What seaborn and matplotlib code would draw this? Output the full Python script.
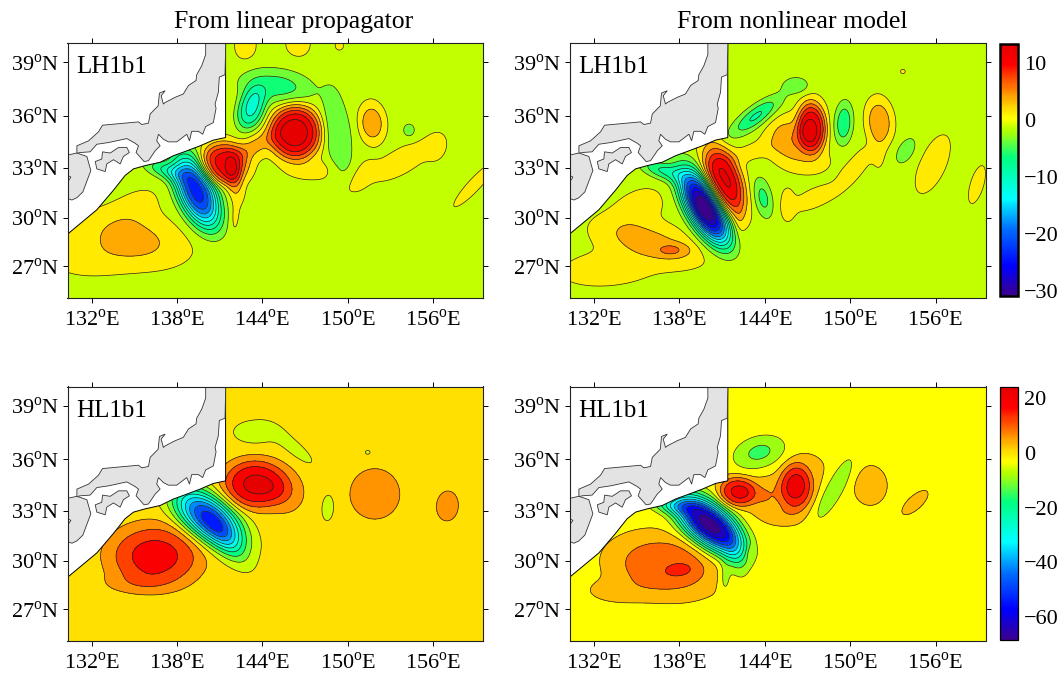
import numpy as np
import matplotlib
matplotlib.use('Agg')
import matplotlib.pyplot as plt
from matplotlib.cm import ScalarMappable
from matplotlib.colors import Normalize
import seaborn as sns

sns.set_style('ticks')
plt.rcParams['font.family'] = ['Liberation Serif', 'DejaVu Serif']
plt.rcParams['mathtext.fontset'] = 'custom'
plt.rcParams['mathtext.rm'] = 'Liberation Serif'
plt.rcParams['text.color'] = 'black'
plt.rcParams['xtick.labelcolor'] = 'black'
plt.rcParams['ytick.labelcolor'] = 'black'

W, H = 1060, 673

LON_TICKS = [132, 138, 144, 150, 156]
LAT_TICKS = [27, 30, 33, 36, 39]
LON_RANGE = (130.3, 159.5)
LAT_RANGE = (25.0, 40.05)

TITLES = ['From linear propagator', 'From nonlinear model']
LABELS = ['LH1b1', 'LH1b1', 'HL1b1', 'HL1b1']

# coast of Japan, lon / lat
HONSHU_LON = [140.01, 140.01, 139.73, 139.38, 139.33, 138.8, 138.44, 137.86, 137.16, 137.04, 136.88, 137.16,
              136.76, 136.67, 136.11, 135.99, 135.52, 135.29, 132.76, 132.48, 131.78, 130.96, 130.96, 131.19,
              131.89, 132.36, 133.18, 134.47, 135.05, 135.29, 135.12, 135.68, 135.99, 136.46, 136.81, 136.57,
              136.69, 137.04, 137.39, 137.98, 138.68, 138.87, 139.03, 139.5, 139.8, 140.01, 140.55, 140.74,
              140.67, 140.9, 140.97, 141.37, 141.42]
HONSHU_LAT = [40.1, 39.42, 38.81, 38.32, 38.0, 37.72, 37.25, 37.06, 36.77, 36.68, 37.15, 37.43,
              37.3, 36.58, 36.12, 35.6, 35.52, 35.67, 35.48, 35.1, 34.58, 34.29, 33.85, 33.9,
              33.94, 34.38, 34.48, 34.71, 34.44, 34.29, 33.9, 33.37, 33.42, 34.0, 34.29, 34.58,
              34.96, 34.67, 34.52, 34.52, 34.96, 34.58, 35.13, 35.13, 34.96, 35.4, 35.63, 36.44,
              36.68, 37.34, 38.19, 38.32, 40.1]
SHIKOKU_LON = [132.76, 133.3, 133.88, 134.47, 134.65, 134.23, 134.0, 133.53, 133.06, 132.95, 132.36, 132.25, 132.71]
SHIKOKU_LAT = [33.94, 33.87, 34.19, 34.19, 33.9, 33.67, 33.23, 33.48, 33.23, 32.78, 32.94, 33.37, 33.52]
KYUSHU_LON = [130.3, 130.96, 131.66, 131.94, 131.38, 130.96, 130.61, 130.3, 130.3, 130.54, 130.3]
KYUSHU_LAT = [33.75, 33.87, 33.67, 32.84, 31.57, 31.22, 31.08, 31.18, 32.16, 32.45, 32.55]

# edge of the model domain
EDGE_LON = [141.41, 141.41, 140.55, 139.62, 138.56, 137.74, 136.81, 135.75, 134.94, 134.35, 133.53, 132.36, 130.3, 130.3]
EDGE_LAT = [40.1, 34.77, 34.62, 34.29, 33.96, 33.71, 33.33, 33.13, 32.94, 32.55, 31.67, 30.49, 29.0, 40.1]

# anomalies: lon, lat, amplitude, long radius, short radius, tilt, flatness
LH_LINEAR = [
    (146.3, 35.05, 14.0, 1.25, 1.1, 0, 1.8),
    (141.25, 33.25, 11.5, 1.15, 0.85, 0, 1.6),
    (143.5, 34.3, 4.0, 1.1, 0.45, 25, 1.0),
    (142.0, 32.4, 4.5, 0.85, 0.4, -80, 1.2),
    (142.0, 30.0, 1.5, 0.8, 0.25, 85, 1.0),
    (139.4, 31.55, -23.0, 1.65, 0.88, -60, 1.25),
    (137.2, 32.85, -6.5, 1.1, 0.38, -15, 1.0),
    (143.2, 36.4, -10.0, 0.9, 0.65, 60, 1.3),
    (145.0, 37.7, -5.5, 1.9, 0.7, -5, 1.2),
    (149.3, 35.0, -4.0, 2.0, 0.72, -80, 1.4),
    (134.9, 28.7, 3.9, 2.2, 0.95, -8, 1.1),
    (132.6, 27.6, 1.4, 2.2, 0.8, 5, 1.0),
    (134.8, 30.3, 1.2, 1.5, 0.8, 30, 1.0),
    (151.7, 35.6, 4.6, 0.75, 0.6, -80, 1.5),
    (153.8, 33.4, 1.6, 1.5, 0.5, 25, 1.0),
    (156.2, 34.2, 1.1, 0.6, 0.5, 60, 1.0),
    (150.6, 32.3, 1.6, 1.0, 0.45, 40, 1.0),
    (147.5, 32.9, 1.6, 1.2, 0.4, 0, 1.0),
    (154.3, 35.2, -3.8, 0.33, 0.3, 0, 1.0),
    (142.8, 39.9, 1.6, 0.6, 0.5, 90, 1.0),
    (146.5, 40.0, 1.4, 0.6, 0.5, 0, 1.0),
    (149.4, 39.9, 1.0, 0.25, 0.2, 0, 1.0),
    (158.9, 32.0, 1.5, 1.3, 0.27, 42, 1.0),
]
LH_NONLINEAR = [
    (139.8, 30.6, -32.0, 1.75, 0.78, -55, 1.2),
    (136.8, 32.85, -7.0, 1.1, 0.38, -15, 1.0),
    (141.15, 32.2, 13.5, 1.55, 0.85, -65, 1.5),
    (142.2, 29.6, 1.8, 0.8, 0.3, 90, 1.0),
    (143.9, 31.2, -5.5, 0.9, 0.45, -75, 1.0),
    (145.6, 30.8, 1.6, 0.65, 0.35, 90, 1.0),
    (147.5, 31.2, 1.4, 1.2, 0.4, 20, 1.0),
    (150.3, 33.0, 1.5, 1.1, 0.4, 45, 1.0),
    (147.3, 35.35, 13.0, 1.0, 0.7, -85, 1.6),
    (145.8, 34.6, 5.0, 1.1, 0.85, -20, 1.2),
    (147.3, 33.4, 1.5, 0.9, 0.5, 0, 1.0),
    (143.0, 33.9, 1.4, 1.5, 0.35, 15, 1.0),
    (149.55, 35.6, -7.0, 0.85, 0.45, 85, 1.0),
    (152.05, 35.7, 4.6, 0.85, 0.62, -80, 1.5),
    (152.0, 34.3, 1.1, 1.0, 0.4, 90, 1.0),
    (153.9, 34.0, -4.5, 0.65, 0.38, 50, 1.0),
    (155.8, 33.2, 1.5, 1.3, 0.6, 60, 1.0),
    (158.9, 32.0, 1.2, 0.9, 0.35, 70, 1.0),
    (146.2, 37.75, -3.8, 0.68, 0.34, 0, 1.0),
    (143.4, 36.0, -7.5, 1.4, 0.42, 30, 1.0),
    (153.7, 38.5, 1.0, 0.14, 0.1, 0, 1.0),
    (135.9, 28.5, 3.8, 2.3, 0.8, -12, 1.3),
    (137.6, 28.0, 2.8, 0.85, 0.32, 0, 1.3),
    (133.2, 26.9, 1.3, 2.5, 0.8, 5, 1.0),
    (134.9, 30.4, 1.4, 1.5, 0.8, 25, 1.0),
]
HL_LINEAR = [
    (136.45, 30.3, 17.0, 2.25, 1.33, 0, 1.5),
    (135.0, 28.6, 3.5, 1.8, 0.45, 0, 1.0),
    (140.2, 32.6, -50.0, 1.85, 0.9, -30, 1.15),
    (141.5, 31.2, -12.0, 1.4, 0.6, -45, 1.0),
    (143.47, 34.58, 22.0, 1.55, 0.98, 0, 1.5),
    (145.7, 34.0, 6.0, 0.95, 0.85, 0, 1.0),
    (143.5, 37.55, -6.0, 1.3, 0.55, 0, 1.0),
    (146.3, 36.6, -5.6, 1.25, 0.35, -33, 1.0),
    (151.9, 34.0, 8.0, 1.25, 1.05, 0, 1.0),
    (148.6, 33.2, -7.0, 0.6, 0.33, 85, 1.0),
    (151.4, 36.4, -5.0, 0.2, 0.13, 0, 1.0),
    (157.0, 33.3, 6.0, 0.75, 0.65, 80, 1.0),
]
HL_NONLINEAR = [
    (140.1, 32.2, -68.0, 1.8, 0.85, -32, 1.15),
    (137.6, 33.3, -15.0, 1.2, 0.35, -5, 1.0),
    (141.9, 30.4, -9.0, 1.2, 0.55, -70, 1.0),
    (141.2, 28.9, -7.0, 0.7, 0.3, 90, 1.0),
    (142.08, 34.13, 20.0, 0.9, 0.61, 0, 1.5),
    (146.2, 34.4, 19.0, 0.95, 0.8, 90, 1.5),
    (144.0, 33.9, 7.0, 0.9, 0.7, 0, 1.0),
    (145.4, 32.8, 4.0, 0.85, 0.4, 0, 1.0),
    (146.5, 35.0, 3.0, 1.3, 1.0, 0, 1.0),
    (143.65, 36.4, -13.0, 1.36, 0.68, 10, 1.0),
    (148.9, 34.3, -11.0, 1.6, 0.45, 56, 1.0),
    (151.4, 34.5, 6.5, 0.62, 0.6, 0, 1.0),
    (154.55, 33.5, 5.0, 0.6, 0.24, 35, 1.0),
    (143.0, 30.5, 5.0, 0.33, 0.2, 75, 1.0),
    (137.0, 29.7, 12.0, 2.4, 1.2, -5, 1.5),
    (138.1, 29.45, 5.0, 0.6, 0.25, 5, 1.0),
    (134.0, 28.2, 3.0, 1.5, 0.5, 0, 1.0),
]

# base of each field, and contour levels
BACKGROUNDS = [-0.5, -0.5, 0.0, -1.0]
LEVELS = [np.arange(-32.5, 15, 2.5), np.arange(-32.5, 15, 2.5), np.arange(-69, 26, 6), np.arange(-66, 25, 6)]
NORM_RANGES = [(-30.9, 13.3), (-30.9, 13.3), (-68.4, 24.1), (-68.4, 24.1)]
BAR_TICKS = [[10, 0, -10, -20, -30], [20, 0, -20, -40, -60]]

CMAP_POS = [0.0, 0.12, 0.255, 0.39, 0.546, 0.66, 0.705, 0.74, 0.785, 0.83, 0.875, 0.92, 1.0]
CMAP_COLORS = ['#3c008c', '#0000ff', '#0064ff', '#00ffff', '#00ff82', '#b4ff00', '#ffff00', '#ffe000', '#ffaa00',
               '#ff7000', '#ff3c00', '#ff0000', '#e60000']

# even steps for the colour bar, blended by seaborn between the colours above
stops = []
for i in range(len(CMAP_POS) - 1):
    n = int(round((CMAP_POS[i + 1] - CMAP_POS[i]) * 200))
    stops += sns.blend_palette([CMAP_COLORS[i], CMAP_COLORS[i + 1]], n)
cmap = sns.blend_palette(stops, n_colors=64, as_cmap=True)


def merc(lat):
    lat = np.clip(lat, -85, 85)
    return np.degrees(np.log(np.tan(np.radians(45 + lat / 2))))


def inv_merc(y):
    return 2 * np.degrees(np.arctan(np.exp(np.radians(y)))) - 90


def make_field(anomalies, base, lon, lat):
    out = np.full(lon.shape, float(base))
    for x0, y0, amp, long_r, short_r, tilt, flat in anomalies:
        t = np.radians(tilt)
        u = (lon - x0) * np.cos(t) + (lat - y0) * np.sin(t)
        v = -(lon - x0) * np.sin(t) + (lat - y0) * np.cos(t)
        out += amp * np.exp(-(((u / long_r) ** 2 + (v / short_r) ** 2) / 2) ** flat)
    return out


def add_axes(fig, x0, y0, x1, y1):
    return fig.add_axes([x0 / W, 1 - y1 / H, (x1 - x0) / W, (y1 - y0) / H])


def draw_map(ax, field, levels, vrange, label):
    ax.set_yscale('function', functions=(merc, inv_merc))
    norm = Normalize(*vrange)
    ax.contourf(grid_lon, grid_lat, field, levels=levels, cmap=cmap, norm=norm, extend='both')
    ax.contour(grid_lon, grid_lat, field, levels=levels, colors='#222222', linewidths=0.5,
               negative_linestyles='solid')
    ax.fill(EDGE_LON, EDGE_LAT, facecolor='white', edgecolor='black', linewidth=0.7, zorder=3)
    for xs, ys in [(HONSHU_LON, HONSHU_LAT), (SHIKOKU_LON, SHIKOKU_LAT), (KYUSHU_LON, KYUSHU_LAT)]:
        ax.fill(xs, ys, facecolor='#e3e3e3', edgecolor='#333333', linewidth=0.6, zorder=4)
    ax.set_xlim(*LON_RANGE)
    ax.set_ylim(*LAT_RANGE)
    ax.set_xticks(LON_TICKS)
    ax.set_xticklabels(['%d$^{\\mathrm{o}}$E' % v for v in LON_TICKS], fontsize=16)
    ax.set_yticks(LAT_TICKS)
    ax.set_yticklabels(['%d$^{\\mathrm{o}}$N' % v for v in LAT_TICKS], fontsize=16)
    ax.minorticks_off()
    ax.tick_params(axis='y', which='major', direction='out', length=3.6, width=0.7, left=True, right=True,
                   labelright=False, pad=2, color='black')
    ax.tick_params(axis='x', which='major', direction='out', length=3.6, width=0.7, top=True, bottom=True,
                   labeltop=False, pad=5, color='black')
    for s in ax.spines.values():
        s.set_linewidth(0.8)
        s.set_color('#222222')
        s.set_zorder(6)
    ax.text(0.022, 0.905, label, transform=ax.transAxes, fontsize=18, ha='left', va='center', zorder=7)


def draw_bar(fig, box, vrange, ticks, frame):
    cax = add_axes(fig, *box)
    sm = ScalarMappable(norm=Normalize(*vrange), cmap=cmap)
    cb = fig.colorbar(sm, cax=cax)
    cb.set_ticks(ticks)
    cb.set_ticklabels([str(v).replace('-', '\u2212') for v in ticks])
    cb.ax.minorticks_off()
    cb.ax.tick_params(direction='in', length=2.5, width=0.8, left=True, right=True, labelsize=16, pad=4.5)
    cb.outline.set_linewidth(frame)
    cb.outline.set_edgecolor('black')


lon_axis = np.arange(LON_RANGE[0], LON_RANGE[1] + 0.04, 0.04)
lat_axis = np.arange(LAT_RANGE[0], LAT_RANGE[1] + 0.04, 0.04)
grid_lon, grid_lat = np.meshgrid(lon_axis, lat_axis)

fig = plt.figure(figsize=(W / 100, H / 100), dpi=100)
boxes = [(67.5, 43, 483, 298), (569.5, 43, 985.5, 298), (67.5, 386.5, 483, 641), (569.5, 386.5, 985.5, 641)]
panels = [LH_LINEAR, LH_NONLINEAR, HL_LINEAR, HL_NONLINEAR]

for i in range(4):
    ax = add_axes(fig, *boxes[i])
    field = make_field(panels[i], BACKGROUNDS[i], grid_lon, grid_lat)
    draw_map(ax, field, LEVELS[i], NORM_RANGES[i], LABELS[i])

fig.text(294 / W, 1 - 22 / H, TITLES[0], fontsize=18.5, ha='center', va='center')
fig.text(792.5 / W, 1 - 22 / H, TITLES[1], fontsize=18.5, ha='center', va='center')

draw_bar(fig, (1000, 44, 1018, 296), NORM_RANGES[0], BAR_TICKS[0], 1.8)
draw_bar(fig, (1000, 387, 1018, 640), NORM_RANGES[2], BAR_TICKS[1], 0.9)

fig.savefig('out.png', dpi=100)
